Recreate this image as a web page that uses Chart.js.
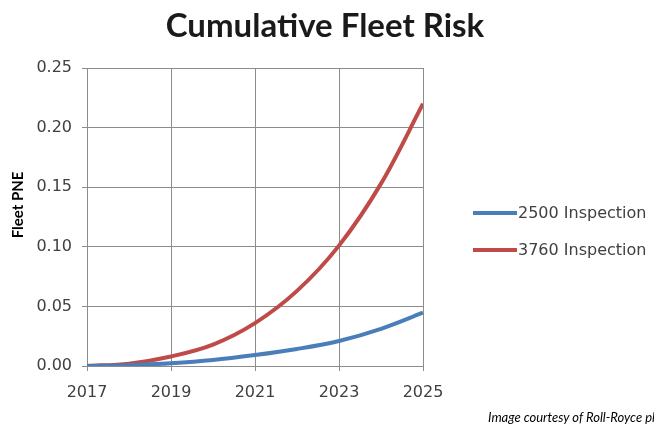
<!DOCTYPE html>
<html>
<head>
<meta charset="utf-8">
<script src="https://cdn.jsdelivr.net/npm/chart.js@4/dist/chart.umd.min.js"></script>
<style>
  body { margin: 0; background: #fff; }
  #wrap { position: relative; width: 654px; height: 425px; overflow: hidden; }
  #note {
    position: absolute; left: 488px; top: 409px; white-space: nowrap;
    font: italic 13px Lato, sans-serif; color: #000;
  }
</style>
</head>
<body>
<div id="wrap">
  <canvas id="riskChart" width="654" height="425"></canvas>
  <div id="note">Image courtesy of Roll-Royce plc</div>
</div>
<script>
// years on the x axis, cumulative PNE for each inspection interval
const years = [2017, 2018, 2019, 2020, 2021, 2022, 2023, 2024, 2025];
const pne2500 = [0, 0.0007, 0.0023, 0.005, 0.0092, 0.0143, 0.021, 0.0312, 0.0447];
const pne3760 = [0, 0.002, 0.008, 0.018, 0.036, 0.063, 0.101, 0.153, 0.22];
const seriesNames = ['2500 Inspection', '3760 Inspection'];
const seriesColors = ['#4a7ebb', '#be4b48'];
const yTicks = [0, 0.05, 0.10, 0.15, 0.20, 0.25];

const tickFont = { family: 'DejaVu Sans', size: 16 };
const gridColor = '#8c8c8c';

function toPoints(vals) {
  return years.map((yr, i) => ({ x: yr, y: vals[i] }));
}

// title, legend on the right and the rotated axis title, drawn on the canvas
const sideText = {
  id: 'sideText',
  afterDraw(chart) {
    const ctx = chart.ctx;
    const area = chart.chartArea;
    ctx.save();

    ctx.fillStyle = '#1a1a1a';
    ctx.font = 'bold 33px Lato';
    ctx.textAlign = 'center';
    ctx.textBaseline = 'middle';
    ctx.fillText('Cumulative Fleet Risk', 325, 26);

    chart.data.datasets.forEach((ds, i) => {
      const y = 213 + i * 37;
      const x0 = area.right + 50;
      ctx.strokeStyle = ds.borderColor;
      ctx.lineWidth = 4;
      ctx.beginPath();
      ctx.moveTo(x0, y);
      ctx.lineTo(x0 + 44, y);
      ctx.stroke();
      ctx.fillStyle = '#404040';
      ctx.font = '16px "DejaVu Sans"';
      ctx.textBaseline = 'middle';
      ctx.textAlign = 'left';
      ctx.fillText(ds.label, x0 + 45, y + 1);
    });

    ctx.translate(18, 205);
    ctx.rotate(-Math.PI / 2);
    ctx.fillStyle = '#000';
    ctx.font = 'bold 15px "Liberation Sans Narrow", Lato';
    ctx.textAlign = 'center';
    ctx.textBaseline = 'middle';
    ctx.fillText('Fleet PNE', 0, 0);
    ctx.restore();
  }
};

new Chart(document.getElementById('riskChart'), {
  type: 'line',
  data: {
    datasets: [
      { label: seriesNames[0], data: toPoints(pne2500), borderColor: seriesColors[0] },
      { label: seriesNames[1], data: toPoints(pne3760), borderColor: seriesColors[1] }
    ]
  },
  options: {
    responsive: false,
    animation: false,
    layout: { padding: { left: 0, right: 231, top: 68, bottom: 0 } },
    elements: {
      line: { borderWidth: 4, tension: 0.35, fill: false },
      point: { radius: 0, hoverRadius: 0 }
    },
    plugins: {
      legend: { display: false },
      tooltip: { enabled: false },
      title: { display: false }
    },
    scales: {
      x: {
        type: 'linear',
        min: years[0],
        max: years[years.length - 1],
        afterFit: s => { s.height = 59; },
        ticks: {
          stepSize: 2,
          color: '#404040',
          font: tickFont,
          padding: 12,
          maxRotation: 0,
          callback: v => String(v)
        },
        grid: { color: gridColor, tickLength: 5, tickColor: gridColor },
        border: { color: gridColor }
      },
      y: {
        min: 0,
        max: 0.25,
        afterFit: s => { s.width = 87; },
        afterBuildTicks: s => { s.ticks = yTicks.map(v => ({ value: v })); },
        ticks: {
          color: '#404040',
          font: tickFont,
          padding: 10,
          callback: v => v.toFixed(2)
        },
        grid: { color: gridColor, tickLength: 5, tickColor: gridColor },
        border: { color: gridColor }
      }
    }
  },
  plugins: [sideText]
});
</script>
</body>
</html>
